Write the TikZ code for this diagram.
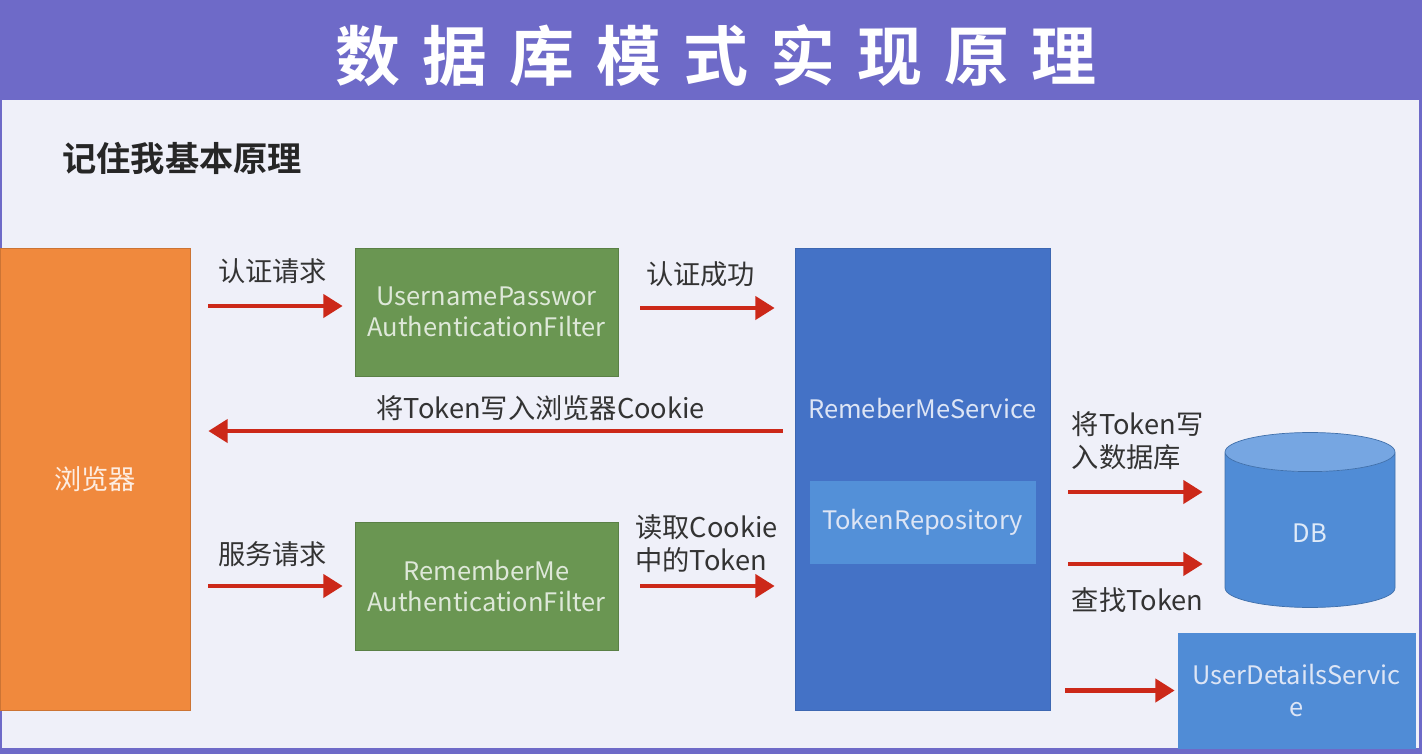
\documentclass[tikz,border=0pt]{standalone}
\usepackage{fontspec}
\setmainfont{Noto Sans CJK SC}[BoldFont={Noto Sans CJK SC Bold}]
\newfontfamily\bannerfont[LetterSpace=34]{Noto Sans CJK SC Bold}
\usepackage{xcolor}
\usepackage{tikz}
\usetikzlibrary{shapes.geometric, arrows.meta, positioning, calc}

\definecolor{bannerpurple}{RGB}{110,106,200}
\definecolor{pagebg}{RGB}{239,240,249}
\definecolor{boxorange}{RGB}{240,137,61}
\definecolor{boxgreen}{RGB}{106,150,82}
\definecolor{boxblue}{RGB}{68,114,198}
\definecolor{repoblue}{RGB}{83,144,216}
\definecolor{dbblue}{RGB}{80,140,214}
\definecolor{dbtop}{RGB}{118,166,226}
\definecolor{arrowred}{RGB}{204,40,25}

\begin{document}
\begin{tikzpicture}[
    x=0.02cm, y=-0.02cm,
    font=\fontsize{15.5pt}{19pt}\selectfont,
    boxfont/.style={font=\fontsize{14.5pt}{18pt}\selectfont},
    orangebox/.style={rectangle, draw=boxorange!85!black, fill=boxorange, text=white!85!boxorange, minimum width=3.8cm, minimum height=9.24cm},
    filterbox/.style={rectangle, boxfont, draw=boxgreen!85!black, fill=boxgreen, text=white!78!boxgreen, align=center, minimum width=5.26cm, minimum height=2.56cm, inner sep=2pt},
    bluebox/.style={rectangle, boxfont, draw=boxblue!90!black, fill=boxblue, text=white!82!boxblue, align=center, inner sep=2pt},
    lbl/.style={text=black!80, align=left, inner sep=1pt},
    arr/.style={-{Triangle[length=11pt, width=13pt]}, line width=2.6pt, color=arrowred}
]

% frame and banner
\fill[bannerpurple] (0,0) rectangle (1422,754);
\fill[pagebg] (2,100) rectangle (1419,748);
\useasboundingbox (0,0) rectangle (1422,754);

\node[text=white, font=\bannerfont\fontsize{37pt}{37pt}\selectfont] (title) at (716,56) {数据库模式实现原理};

\node[anchor=west, text=black!85, font=\bfseries\fontsize{19.5pt}{22pt}\selectfont, inner sep=0pt] (subtitle) at (62,158) {记住我基本原理};

% boxes
\node[orangebox] (browser) at (95,479) {浏览器};
\node[filterbox] (up_filter) at (486.5,312) {UsernamePasswor\\AuthenticationFilter};
\node[filterbox] (rm_filter) at (486.5,586) {RememberMe\\AuthenticationFilter};
\node[bluebox, minimum width=5.1cm, minimum height=9.24cm] (rm_service) at (922.5,479) {};
\node[boxfont, text=white!82!boxblue] (service_lbl) at (922.5,409) {RemeberMeService};
\node[bluebox, fill=repoblue, draw=repoblue, minimum width=4.5cm, minimum height=1.64cm] (token_repo) at (922.5,522) {TokenRepository};
\node[cylinder, boxfont, shape border rotate=90, aspect=0.85, draw=dbblue!80!black, cylinder uses custom fill, cylinder body fill=dbblue, cylinder end fill=dbtop, text=white!82!dbblue, minimum width=3.4cm, minimum height=3.5cm] (db) at (1310,533.5) {DB};
\node[bluebox, fill=dbblue, draw=dbblue, minimum width=4.74cm, minimum height=2.3cm] (uds) at (1296.5,690.5) {UserDetailsServic\\e};

% arrows
\draw[arr, shorten <=0.36cm, shorten >=0.24cm] ([yshift=0.12cm]browser.east |- up_filter.west) -- ([yshift=0.12cm]up_filter.west)
    node[midway, above=0.36cm, lbl] {认证请求};
\draw[arr, shorten <=0.44cm, shorten >=0.4cm] ([yshift=0.08cm]up_filter.east) -- ([yshift=0.08cm]up_filter.east -| rm_service.west)
    node[midway, xshift=-0.12cm, above=0.34cm, lbl] {认证成功};
\draw[arr, shorten <=0.24cm, shorten >=0.36cm] ([yshift=0.96cm]rm_service.west) -- ([yshift=0.96cm]rm_service.west -| browser.east)
    node[pos=0.42, above=0.12cm, lbl] {将Token写入浏览器Cookie};
\draw[arr, shorten <=0.36cm, shorten >=0.24cm] (browser.east |- rm_filter.west) -- (rm_filter.west)
    node[midway, above=0.3cm, lbl] {服务请求};
\draw[arr, shorten <=0.44cm, shorten >=0.4cm] (rm_filter.east) -- (rm_filter.east -| rm_service.west)
    node[midway, above=0.18cm, lbl] {读取Cookie\\中的Token};
\draw[arr, shorten <=0.36cm, shorten >=0.44cm] (rm_service.east |- 0,492) -- (db.west |- 0,492)
    node[midway, above=0.36cm, lbl] {将Token写\\入数据库};
\draw[arr, shorten <=0.36cm, shorten >=0.44cm] (rm_service.east |- 0,564) -- (db.west |- 0,564)
    node[midway, below=0.4cm, lbl] {查找Token};
\draw[arr, shorten <=0.3cm, shorten >=0.06cm] (rm_service.east |- uds.west) -- (uds.west);

\end{tikzpicture}
\end{document}
